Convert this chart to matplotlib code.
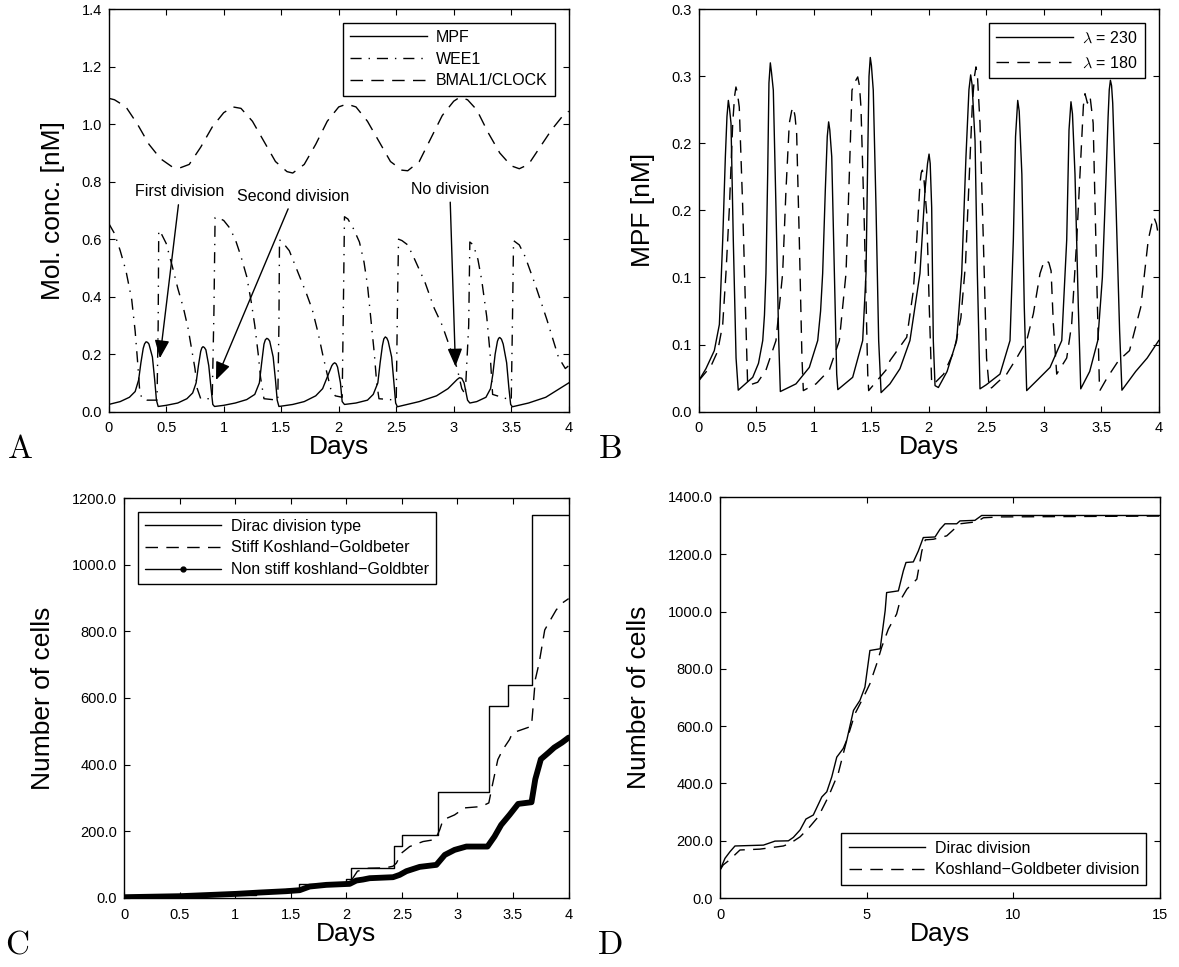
import numpy as np
import matplotlib.pyplot as plt

plt.rcParams['font.family'] = ['Liberation Sans', 'DejaVu Sans']
plt.rcParams['mathtext.fontset'] = 'cm'

# ---- panel A: MPF / WEE1 / BMAL1-CLOCK ----
a_mpf_t = [0, 0.1, 0.18, 0.23, 0.26, 0.28, 0.3, 0.312, 0.325, 0.338, 0.35, 0.38, 0.4, 0.415, 0.43,
           0.5, 0.6, 0.68, 0.73, 0.76, 0.78, 0.8, 0.81, 0.82, 0.832, 0.845, 0.87, 0.89, 0.905, 0.92,
           1.0, 1.1, 1.2, 1.27, 1.31, 1.33, 1.35, 1.362, 1.375, 1.388, 1.4, 1.43, 1.45, 1.465, 1.48,
           1.6, 1.7, 1.8, 1.86, 1.9, 1.94, 1.953, 1.965, 1.978, 1.99, 2.015, 2.03, 2.05,
           2.15, 2.25, 2.3, 2.34, 2.36, 2.38, 2.392, 2.405, 2.418, 2.43, 2.46, 2.48, 2.495, 2.51,
           2.7, 2.85, 2.95, 3.0, 3.03, 3.05, 3.07, 3.09, 3.1, 3.12, 3.14,
           3.2, 3.28, 3.32, 3.34, 3.36, 3.38, 3.39, 3.4, 3.415, 3.43, 3.46, 3.48, 3.495, 3.51,
           3.65, 3.8, 3.9, 4.0]
a_mpf_v = [0.025, 0.035, 0.05, 0.07, 0.11, 0.17, 0.22, 0.236, 0.243, 0.241, 0.235, 0.19, 0.11, 0.04, 0.018,
           0.022, 0.03, 0.045, 0.065, 0.1, 0.16, 0.21, 0.222, 0.226, 0.223, 0.215, 0.16, 0.08, 0.025, 0.018,
           0.022, 0.03, 0.042, 0.06, 0.1, 0.17, 0.235, 0.25, 0.255, 0.252, 0.245, 0.19, 0.11, 0.04, 0.018,
           0.025, 0.035, 0.055, 0.08, 0.12, 0.16, 0.167, 0.17, 0.166, 0.155, 0.1, 0.035, 0.025,
           0.03, 0.04, 0.06, 0.1, 0.17, 0.23, 0.253, 0.26, 0.256, 0.245, 0.19, 0.1, 0.03, 0.017,
           0.035, 0.055, 0.08, 0.1, 0.112, 0.118, 0.116, 0.1, 0.08, 0.04, 0.03,
           0.035, 0.05, 0.08, 0.13, 0.2, 0.245, 0.255, 0.258, 0.252, 0.235, 0.17, 0.08, 0.025, 0.017,
           0.03, 0.05, 0.075, 0.1]

a_wee_t = [0, 0.05, 0.1, 0.15, 0.2, 0.23, 0.25, 0.27, 0.29, 0.33, 0.42, 0.43, 0.435,
           0.45, 0.5, 0.55, 0.6, 0.65, 0.69, 0.72, 0.75, 0.77, 0.8, 0.9, 0.915, 0.925,
           0.95, 1.0, 1.05, 1.1, 1.15, 1.2, 1.24, 1.27, 1.3, 1.32, 1.35, 1.47, 1.48, 1.485,
           1.52, 1.57, 1.62, 1.66, 1.72, 1.77, 1.82, 1.86, 1.9, 1.93, 1.97, 2.03, 2.04, 2.05,
           2.08, 2.13, 2.18, 2.22, 2.25, 2.28, 2.31, 2.33, 2.35, 2.5, 2.51, 2.52,
           2.55, 2.6, 2.66, 2.75, 2.83, 2.9, 2.97, 3.03, 3.07, 3.1, 3.13, 3.14,
           3.17, 3.21, 3.243, 3.287, 3.316, 3.338, 3.5, 3.51, 3.52,
           3.57, 3.62, 3.71, 3.81, 3.91, 3.97, 4.0]
a_wee_v = [0.655, 0.62, 0.56, 0.49, 0.39, 0.28, 0.18, 0.07, 0.045, 0.04, 0.04, 0.3, 0.63,
           0.625, 0.585, 0.51, 0.43, 0.36, 0.29, 0.22, 0.15, 0.08, 0.045, 0.045, 0.35, 0.675,
           0.675, 0.665, 0.64, 0.6, 0.54, 0.47, 0.38, 0.3, 0.2, 0.12, 0.045, 0.04, 0.3, 0.598,
           0.585, 0.56, 0.51, 0.47, 0.41, 0.355, 0.275, 0.2, 0.13, 0.08, 0.055, 0.05, 0.35, 0.678,
           0.67, 0.635, 0.59, 0.52, 0.44, 0.32, 0.2, 0.1, 0.045, 0.04, 0.35, 0.6,
           0.595, 0.58, 0.53, 0.45, 0.36, 0.3, 0.22, 0.15, 0.08, 0.06, 0.3, 0.59,
           0.58, 0.53, 0.458, 0.33, 0.203, 0.06, 0.04, 0.3, 0.595,
           0.58, 0.54, 0.44, 0.32, 0.19, 0.15, 0.16]

a_bmal_t = [0, 0.05, 0.15, 0.25, 0.35, 0.45, 0.55, 0.62, 0.7, 0.8, 0.9, 1.0, 1.08, 1.15,
            1.25, 1.35, 1.45, 1.55, 1.6, 1.7, 1.8, 1.9, 2.0, 2.07, 2.15, 2.25, 2.35, 2.45,
            2.55, 2.6, 2.7, 2.8, 2.9, 3.0, 3.05, 3.12, 3.2, 3.3, 3.4, 3.5, 3.57, 3.65,
            3.75, 3.85, 3.95, 4.0]
a_bmal_v = [1.09, 1.085, 1.06, 1.0, 0.93, 0.88, 0.852, 0.848, 0.86, 0.92, 0.99, 1.04, 1.06, 1.055,
            1.01, 0.94, 0.87, 0.835, 0.83, 0.86, 0.93, 1.01, 1.06, 1.07, 1.06, 1.01, 0.94, 0.87,
            0.84, 0.838, 0.87, 0.95, 1.03, 1.08, 1.093, 1.085, 1.05, 0.97, 0.9, 0.855, 0.845, 0.86,
            0.92, 0.98, 1.03, 1.045]

a_notes = ['First division', 'Second division', 'No division']
a_note_text_xy = [(0.62, 0.765), (1.607, 0.75), (2.966, 0.774)]
a_note_head_xy = [(0.445, 0.186), (0.933, 0.11), (3.015, 0.157)]

# ---- panel B: MPF for two lambda values ----
b_230_t = [0, 0.063, 0.136, 0.18, 0.209, 0.232, 0.246, 0.258, 0.268, 0.281, 0.301, 0.325, 0.344,
           0.47, 0.52, 0.557, 0.572, 0.585, 0.6, 0.611, 0.623, 0.633, 0.649, 0.672, 0.696, 0.71,
           0.846, 0.962, 1.035, 1.06, 1.078, 1.101, 1.118, 1.13, 1.14, 1.157, 1.18, 1.2, 1.21,
           1.339, 1.426, 1.455, 1.472, 1.481, 1.492, 1.502, 1.518, 1.542, 1.565, 1.586,
           1.663, 1.75, 1.837, 1.924, 1.968, 1.99, 2.003, 2.013, 2.026, 2.04, 2.055, 2.084,
           2.16, 2.243, 2.287, 2.324, 2.35, 2.365, 2.377, 2.403, 2.423, 2.446,
           2.5, 2.62, 2.707, 2.736, 2.755, 2.774, 2.787, 2.81, 2.831, 2.852,
           2.95, 3.055, 3.157, 3.2, 3.22, 3.237, 3.25, 3.272, 3.301, 3.322,
           3.4, 3.47, 3.51, 3.54, 3.56, 3.57, 3.58, 3.59, 3.6, 3.63, 3.66, 3.68, 3.8, 3.9, 4.0]
b_230_v = [0.023, 0.032, 0.0455, 0.065, 0.128, 0.19, 0.22, 0.232, 0.226, 0.215, 0.128, 0.04, 0.016,
           0.0256, 0.036, 0.053, 0.072, 0.103, 0.177, 0.245, 0.26, 0.253, 0.2396, 0.152, 0.053, 0.015,
           0.0207, 0.033, 0.053, 0.075, 0.103, 0.165, 0.205, 0.216, 0.21, 0.19, 0.103, 0.028, 0.0164,
           0.0256, 0.053, 0.103, 0.202, 0.25, 0.264, 0.258, 0.2396, 0.152, 0.053, 0.0142,
           0.0207, 0.032, 0.053, 0.103, 0.165, 0.185, 0.192, 0.185, 0.152, 0.053, 0.0194, 0.018,
           0.03, 0.053, 0.103, 0.19, 0.24, 0.251, 0.244, 0.202, 0.103, 0.017,
           0.02, 0.028, 0.053, 0.128, 0.205, 0.232, 0.224, 0.177, 0.078, 0.0157,
           0.024, 0.033, 0.053, 0.128, 0.21, 0.231, 0.222, 0.177, 0.078, 0.017,
           0.03, 0.053, 0.1, 0.17, 0.22, 0.24, 0.247, 0.243, 0.23, 0.15, 0.06, 0.016, 0.03, 0.04, 0.053]

b_180_t = [0, 0.107, 0.165, 0.209, 0.237, 0.267, 0.296, 0.312, 0.324, 0.336, 0.353, 0.383, 0.411, 0.426,
           0.513, 0.585, 0.672, 0.73, 0.759, 0.788, 0.808, 0.823, 0.838, 0.852, 0.875, 0.898, 0.91,
           1.02, 1.136, 1.223, 1.281, 1.31, 1.333, 1.36, 1.383, 1.398, 1.411, 1.44, 1.47, 1.478,
           1.629, 1.663, 1.809, 1.866, 1.896, 1.924, 1.935, 1.945, 1.96, 1.983, 2.005, 2.026,
           2.06, 2.13, 2.22, 2.28, 2.32, 2.35, 2.38, 2.398, 2.411, 2.424, 2.446, 2.475, 2.503, 2.527,
           2.55, 2.6, 2.678, 2.765, 2.852, 2.91, 2.968, 2.995, 3.02, 3.045, 3.064, 3.084, 3.113,
           3.2, 3.243, 3.287, 3.33, 3.345, 3.359, 3.38, 3.403, 3.43, 3.46, 3.484, 3.49,
           3.55, 3.65, 3.746, 3.844, 3.909, 3.94, 3.958, 3.98, 4.0]
b_180_v = [0.023, 0.034, 0.045, 0.065, 0.103, 0.152, 0.215, 0.235, 0.242, 0.238, 0.227, 0.152, 0.065, 0.0194,
           0.0219, 0.031, 0.053, 0.103, 0.165, 0.215, 0.224, 0.227, 0.22, 0.207, 0.128, 0.04, 0.0157,
           0.0207, 0.031, 0.053, 0.103, 0.177, 0.2396, 0.246, 0.2495, 0.243, 0.227, 0.14, 0.028, 0.0157,
           0.031, 0.038, 0.0555, 0.09, 0.128, 0.17, 0.178, 0.18, 0.172, 0.1475, 0.078, 0.0207,
           0.022, 0.028, 0.045, 0.07, 0.11, 0.17, 0.23, 0.25, 0.257, 0.25, 0.215, 0.128, 0.04, 0.017,
           0.018, 0.022, 0.028, 0.04, 0.053, 0.073, 0.103, 0.11, 0.113, 0.111, 0.105, 0.065, 0.028,
           0.04, 0.065, 0.128, 0.202, 0.228, 0.237, 0.23, 0.235, 0.215, 0.103, 0.0207, 0.016,
           0.025, 0.038, 0.0455, 0.078, 0.128, 0.14, 0.145, 0.14, 0.13]
b_yticks = [0, 0.05, 0.1, 0.15, 0.2, 0.25, 0.3]
b_yticklabels = ['0.0', '0.1', '0.1', '0.2', '0.2', '0.3', '0.3']

# ---- panel C: number of cells, 0-4 days ----
c_dirac_t = [0, 0.65, 1.19, 1.46, 1.577, 2.0, 2.045, 2.43, 2.5, 2.824, 3.288, 3.458, 3.666, 4.0]
c_dirac_v = [4, 9, 18, 28, 43, 58, 91, 156, 188, 318, 575, 638, 1150, 1150]

c_stiff_t = [0, 0.5, 1.0, 1.3, 1.6, 1.9, 2.0, 2.05, 2.1, 2.2, 2.35, 2.42, 2.45, 2.495, 2.57,
             2.69, 2.8, 2.84, 2.87, 2.974, 3.064, 3.214, 3.282, 3.318, 3.363, 3.408, 3.468,
             3.495, 3.666, 3.7, 3.734, 3.785, 3.836, 3.888, 3.939, 4.0]
c_stiff_v = [4, 6, 10, 17, 28, 40, 45, 55, 80, 89, 90, 95, 104, 134, 154,
             169, 175, 204, 234, 249, 270, 274, 285, 345, 415, 445, 475,
             495, 515, 655, 704, 804, 834, 864, 884, 898]

c_nonstiff_t = [0, 0.503, 1.01, 1.22, 1.46, 1.58, 1.67, 1.82, 2.03, 2.09, 2.15, 2.21, 2.42,
                2.48, 2.54, 2.66, 2.81, 2.886, 2.974, 3.08, 3.27, 3.333, 3.393, 3.468, 3.546,
                3.666, 3.7, 3.75, 3.82, 3.87, 3.94, 4.0]
c_nonstiff_v = [2, 5, 12, 16, 20, 23, 34, 39, 42, 52, 55, 59, 62,
                69, 80, 93, 99, 129, 144, 154, 154, 184, 219, 249, 282,
                287, 356, 416, 436, 451, 466, 481]

# ---- panel D: number of cells, 0-15 days ----
d_dirac_t = [0, 0.17, 0.34, 0.51, 1.48, 1.875, 2.33, 2.5, 2.73, 2.93, 3.18, 3.47, 3.64, 3.81,
             3.98, 4.2, 4.32, 4.55, 4.77, 4.94, 5.11, 5.46, 5.63, 5.68, 6.08, 6.25, 6.34,
             6.59, 6.76, 6.93, 7.33, 7.5, 7.67, 8.07, 8.18, 8.69, 8.92, 15]
d_dirac_v = [98, 139, 162, 182, 185, 199, 200, 212, 238, 276, 290, 353, 371, 423,
             492, 522, 551, 655, 690, 736, 864, 870, 1003, 1066, 1072, 1142, 1171,
             1173, 1211, 1258, 1260, 1287, 1306, 1306, 1316, 1318, 1335, 1335]

d_kg_t = [0, 0.11, 0.32, 0.68, 1.36, 2.16, 2.39, 2.73, 3.01, 3.35, 3.69, 4.03, 4.32, 4.6,
          4.89, 5.11, 5.34, 5.51, 5.74, 6.02, 6.14, 6.37, 6.71, 6.88, 7.0, 7.27, 7.73,
          8.18, 8.75, 8.98, 9.55, 15]
d_kg_v = [98, 116, 133, 168, 171, 182, 191, 214, 243, 284, 353, 435, 551, 643,
          701, 748, 817, 875, 939, 991, 1038, 1078, 1113, 1211, 1250, 1252, 1264,
          1306, 1313, 1327, 1330, 1333]

fig = plt.figure(figsize=(11.79, 9.67), dpi=100)
axA = fig.add_axes([0.0922, 0.5743, 0.3902, 0.4162])
axB = fig.add_axes([0.5926, 0.5743, 0.3902, 0.4162])
axC = fig.add_axes([0.1052, 0.0715, 0.3771, 0.4135])
axD = fig.add_axes([0.6107, 0.0712, 0.3732, 0.4150])

lw = 1.0
leg_kw = dict(fancybox=False, edgecolor='k', framealpha=1, handlelength=4.8,
              handletextpad=0.6, borderpad=0.45, labelspacing=0.42, borderaxespad=0.85)


def style(ax):
    ax.tick_params(direction='in', top=True, right=True, length=4, width=0.8,
                   labelsize=10.5)
    ax.tick_params(axis='x', pad=7)
    ax.tick_params(axis='y', pad=5)
    for s in ax.spines.values():
        s.set_linewidth(1.0)
    ax.set_xlabel('Days', fontsize=19, labelpad=0)


# A
axA.plot(a_mpf_t, a_mpf_v, 'k-', lw=lw, label='MPF')
axA.plot(a_wee_t, a_wee_v, color='k', lw=lw, dashes=(8, 5, 1, 5), label='WEE1')
axA.plot(a_bmal_t, a_bmal_v, color='k', lw=lw, dashes=(9, 6), label='BMAL1/CLOCK')
for txt, xt, xh in zip(a_notes, a_note_text_xy, a_note_head_xy):
    axA.annotate(txt, xy=xh, xytext=xt, ha='center', va='center', fontsize=11.5,
                 arrowprops=dict(arrowstyle='-|>,head_length=1.1,head_width=0.45',
                                 mutation_scale=10, color='k', lw=1.0, shrinkA=2, shrinkB=0))
axA.set_xlim(0, 4)
axA.set_ylim(0, 1.4)
axA.set_xticks(np.arange(0, 4.01, 0.5))
axA.set_xticklabels(['0', '0.5', '1', '1.5', '2', '2.5', '3', '3.5', '4'])
axA.set_yticks(np.arange(0, 1.41, 0.2))
axA.set_yticklabels(['%.1f' % v for v in np.arange(0, 1.41, 0.2)])
style(axA)
axA.set_ylabel('Mol. conc. [nM]', fontsize=19, labelpad=12)
axA.legend(loc='upper right', fontsize=11.5, **leg_kw)

# B
axB.plot(b_230_t, b_230_v, 'k-', lw=lw, label=r'$\lambda$ = 230')
axB.plot(b_180_t, b_180_v, color='k', lw=lw, dashes=(9, 6), label=r'$\lambda$ = 180')
axB.set_xlim(0, 4)
axB.set_ylim(0, 0.3)
axB.set_xticks(np.arange(0, 4.01, 0.5))
axB.set_xticklabels(['0', '0.5', '1', '1.5', '2', '2.5', '3', '3.5', '4'])
axB.set_yticks(b_yticks)
axB.set_yticklabels(b_yticklabels)
style(axB)
axB.set_ylabel('MPF [nM]', fontsize=19, labelpad=12)
legB_kw = dict(leg_kw, labelspacing=0.6, borderpad=0.45)
axB.legend(loc='upper right', fontsize=11.5, **legB_kw)

# C
axC.plot(c_dirac_t, c_dirac_v, 'k-', lw=lw, drawstyle='steps-post', label='Dirac division type')
axC.plot(c_stiff_t, c_stiff_v, color='k', lw=lw, dashes=(9, 6), label='Stiff Koshland\u2212Goldbeter')
axC.plot(c_nonstiff_t, c_nonstiff_v, 'k-', lw=4.2, solid_capstyle='round',
         label='Non stiff koshland\u2212Goldbter')
axC.set_xlim(0, 4)
axC.set_ylim(0, 1200)
axC.set_xticks(np.arange(0, 4.01, 0.5))
axC.set_xticklabels(['0', '0.5', '1', '1.5', '2', '2.5', '3', '3.5', '4'])
axC.set_yticks(np.arange(0, 1201, 200))
axC.set_yticklabels(['%.1f' % v for v in np.arange(0, 1201, 200)])
style(axC)
axC.set_ylabel('Number of cells', fontsize=19, labelpad=12)
legC = axC.legend(loc='upper left', fontsize=11.5, **leg_kw)
hC = legC.legend_handles[2]
hC.set_linewidth(lw)
hC.set_marker('.')
hC.set_markersize(7)
hC.set_markevery([1])

# D
axD.plot(d_dirac_t, d_dirac_v, 'k-', lw=lw, label='Dirac division')
axD.plot(d_kg_t, d_kg_v, color='k', lw=lw, dashes=(9, 6), label='Koshland\u2212Goldbeter division')
axD.set_xlim(0, 15)
axD.set_ylim(0, 1400)
axD.set_xticks([0, 5, 10, 15])
axD.set_yticks(np.arange(0, 1401, 200))
axD.set_yticklabels(['%.1f' % v for v in np.arange(0, 1401, 200)])
style(axD)
axD.set_ylabel('Number of cells', fontsize=19, labelpad=12)
axD.legend(loc='lower right', fontsize=11.5, **leg_kw)

for lbl, x, y in [('A', 20, 449), ('B', 610, 449), ('C', 17, 945), ('D', 610, 946)]:
    fig.text(x / 1179, 1 - y / 967, r'$\mathrm{%s}$' % lbl, fontsize=24, ha='center', va='center')

fig.savefig('out.png', dpi=100)
